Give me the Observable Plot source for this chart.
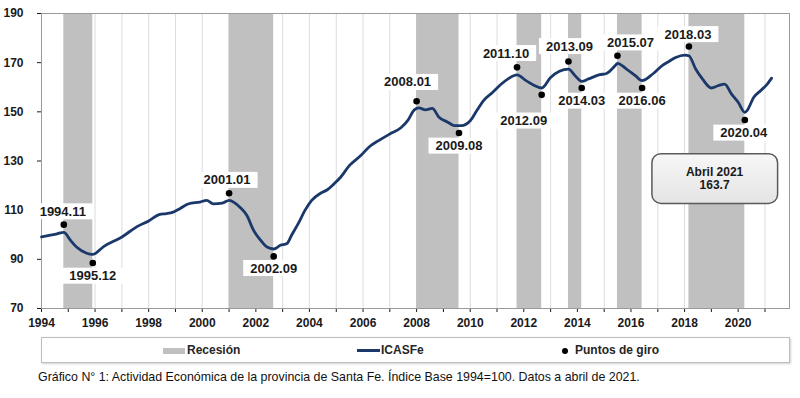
<!DOCTYPE html>
<html><head><meta charset="utf-8">
<script src="https://cdn.jsdelivr.net/npm/d3@7"></script>
<script src="https://cdn.jsdelivr.net/npm/@observablehq/plot@0.6"></script>
<style>
body{margin:0;background:#fff;}
#wrap{position:relative;width:800px;height:398px;overflow:hidden;background:#fff;}
#chart{position:absolute;left:0;top:0;}
#legend{position:absolute;left:41px;top:337px;width:747px;height:24px;border:1px solid #bdbdbd;box-shadow:1px 1px 2px #d0d0d0;font:bold 12px "Liberation Sans",Arial,sans-serif;color:#262626;}
#legend .it{position:absolute;top:0;height:24px;line-height:24px;white-space:nowrap;}
#legend .sw{display:inline-block;vertical-align:middle;}
#caption{position:absolute;left:38px;top:370px;font:12.4px "Liberation Sans",Arial,sans-serif;color:#111;white-space:nowrap;}
</style></head>
<body><div id="wrap"><div id="chart"></div>
<div id="legend"></div>
<div id="caption"></div></div>
<script>
// ---- data ----
const months = ["1994-01","1994-05","1994-08","1994-11","1995-02","1995-05","1995-09","1995-12","1996-05","1997-01","1997-08","1998-01","1998-06","1998-09","1998-12","1999-03","1999-07","1999-12","2000-03","2000-06","2000-10","2001-01","2001-06","2001-09","2001-12","2002-03","2002-06","2002-09","2002-12","2003-03","2003-05","2003-08","2003-11","2004-02","2004-06","2004-09","2004-12","2005-03","2005-07","2005-12","2006-04","2006-08","2007-01","2007-06","2007-09","2007-12","2008-02","2008-05","2008-08","2008-11","2009-03","2009-06","2009-09","2010-01","2010-04","2010-07","2010-11","2011-03","2011-06","2011-10","2012-02","2012-06","2012-09","2013-01","2013-05","2013-09","2013-12","2014-03","2014-06","2014-11","2015-02","2015-06","2015-07","2015-11","2016-03","2016-06","2016-11","2017-03","2017-06","2017-09","2018-01","2018-03","2018-06","2018-09","2019-01","2019-04","2019-07","2019-10","2020-01","2020-04","2020-05","2020-08","2020-11","2021-02","2021-04"];
const icasfe = [99.1,99.8,100.4,101.0,97.7,94.8,92.6,92.0,95.3,99.1,103.4,105.6,108.3,108.6,109.2,110.6,112.6,113.3,114.0,112.6,112.9,114.0,111.1,107.8,101.8,98.0,95.0,94.2,95.7,96.4,99.7,104.5,109.9,114.0,116.9,118.3,120.7,123.4,128.2,132.2,135.9,138.3,141.0,143.5,146.4,150.8,151.6,150.8,151.4,147.8,145.8,144.4,144.4,146.4,150.5,154.6,157.9,161.3,163.4,165.0,162.7,160.6,159.7,164.0,166.5,167.4,164.7,162.4,163.4,165.1,165.6,168.8,169.7,167.4,164.7,162.7,165.6,168.8,170.5,172.1,173.1,172.8,167.4,163.4,159.7,160.6,161.3,157.3,153.9,149.8,150.5,155.9,158.6,161.3,163.7];
const recessionStart = ["1994-11","2001-01","2008-01","2011-10","2013-09","2015-07","2018-03"];
const recessionEnd   = ["1995-12","2002-09","2009-08","2012-09","2014-03","2016-06","2020-04"];
const turningDates  = ["1994-11","1995-12","2001-01","2002-09","2008-01","2009-08","2011-10","2012-09","2013-09","2014-03","2015-07","2016-06","2018-03","2020-04"];
const turningValues = [104.1,88.5,116.9,91.2,154.3,141.4,168.1,156.9,170.5,159.7,172.8,159.7,176.6,146.7];
const turningLabels = ["1994.11","1995.12","2001.01","2002.09","2008.01","2009.08","2011.10","2012.09","2013.09","2014.03","2015.07","2016.06","2018.03","2020.04"];
const yTicks = [70,90,110,130,150,170,190];
const xStartYear = 1994, xEndYear = 2021;
const monthNames = ["Enero","Febrero","Marzo","Abril","Mayo","Junio","Julio","Agosto","Septiembre","Octubre","Noviembre","Diciembre"];
const legendLabels = ["Recesión","ICASFe","Puntos de giro"];
const captionText = "Gráfico N° 1: Actividad Económica de la provincia de Santa Fe. Índice Base 1994=100. Datos a abril de 2021.";

// ---- styles / layout (not data) ----
const labelOffsets = {
  "1994.11":[-1,-13],"1995.12":[0,13],"2001.01":[-2,-13],"2002.09":[0,12],
  "2008.01":[-9,-19],"2009.08":[0,13],"2011.10":[-11,-14],"2012.09":[-18,26],
  "2013.09":[1,-15],"2014.03":[0,13],"2015.07":[13,-13],"2016.06":[0,13],
  "2018.03":[-1,-12],"2020.04":[-1,13]
};
const LINE = "#1a386a", BAND = "#c0c0c0";

const parse = d3.utcParse("%Y-%m");
const series = months.map((m,i)=>({date:parse(m), value:icasfe[i]}));
const bands = recessionStart.map((s,i)=>({start:parse(s), end:parse(recessionEnd[i])}));
const turns = turningDates.map((d,i)=>({date:parse(d), value:turningValues[i], label:turningLabels[i]}));
const years = d3.range(xStartYear, xEndYear+1).map(y=>new Date(Date.UTC(y,0,1)));
const last = series[series.length-1];
const annText = `${monthNames[last.date.getUTCMonth()]} ${last.date.getUTCFullYear()}\n${last.value.toFixed(1)}`;

const svg = Plot.plot({
  width:800, height:332,
  marginLeft:41, marginRight:11, marginTop:13, marginBottom:24,
  style:{fontFamily:"'Liberation Sans', Arial, sans-serif", fontSize:"12px", fontWeight:"bold", color:"#1a1a1a", background:"transparent", overflow:"visible"},
  x:{type:"utc", domain:[new Date(Date.UTC(xStartYear,0,1)), new Date(Date.UTC(xEndYear,11,1))],
     ticks:years, tickFormat:d=>d.getUTCFullYear()%2===0?String(d.getUTCFullYear()):"", tickSize:4, tickPadding:6, label:null},
  y:{domain:[70,190], ticks:yTicks, tickSize:4, tickPadding:14, label:null},
  marks:[
    Plot.ruleX(years.slice(1), {stroke:"#dcdcdc", strokeWidth:1}),
    Plot.rect(bands, {x1:"start", x2:"end", fill:BAND}),
    Plot.frame({stroke:"#9a9a9a", strokeWidth:1}),
    Plot.line(series, {x:"date", y:"value", stroke:LINE, strokeWidth:2.8, curve:"monotone-x"}),
    Plot.dot(turns, {x:"date", y:"value", r:3.3, fill:"#000", stroke:"none"}),
    ...turns.map(t=>Plot.text([t], {x:"date", y:"value", text:"label", dx:labelOffsets[t.label][0], dy:labelOffsets[t.label][1], fontSize:13, fontWeight:"bold", fill:"#1a1a1a"})),
    Plot.text([last], {x:"date", y:"value", text:()=>annText, dx:-57, dy:100, fontSize:12, fontWeight:"bold", fill:"#1a1a1a", lineHeight:1.15})
  ]
});
document.getElementById("chart").append(svg);

// white boxes behind turning-point labels, rounded box behind annotation
const NS = "http://www.w3.org/2000/svg";
const labelSet = new Set(turningLabels);
const annFlat = annText.replace("\n","");
svg.querySelectorAll("text").forEach(t=>{
  const txt = t.textContent;
  if (labelSet.has(txt) || txt === annFlat) {
    const b = t.getBBox();
    const r = document.createElementNS(NS,"rect");
    const isAnn = txt === annFlat;
    const px = isAnn ? 34 : 7, py = isAnn ? 11 : 0.5;
    r.setAttribute("x", b.x-px); r.setAttribute("y", b.y-py);
    r.setAttribute("width", b.width+2*px); r.setAttribute("height", b.height+2*py);
    if (t.getAttribute("transform")) r.setAttribute("transform", t.getAttribute("transform"));
    if (isAnn) {
      r.setAttribute("rx", 9); r.setAttribute("fill", "url(#annGrad)");
      r.setAttribute("stroke", "#5a5a5a"); r.setAttribute("stroke-width", 1.5);
    } else r.setAttribute("fill", "#fff");
    t.parentNode.insertBefore(r, t);
  }
});
const defs = document.createElementNS(NS,"defs");
defs.innerHTML = '<linearGradient id="annGrad" x1="0" y1="0" x2="0" y2="1"><stop offset="0" stop-color="#f7f7f7"/><stop offset="1" stop-color="#e4e4e4"/></linearGradient>';
svg.insertBefore(defs, svg.firstChild);

// legend
const lg = document.getElementById("legend");
const items = [
  {left:121, sw:`<span class="sw" style="width:22px;height:6px;background:${BAND};margin-right:2px"></span>`, label:legendLabels[0]},
  {left:315, sw:`<span class="sw" style="width:23px;height:3px;background:${LINE};margin-right:1px"></span>`, label:legendLabels[1]},
  {left:520, sw:`<span class="sw" style="width:6px;height:6px;border-radius:50%;background:#000;margin-right:7px"></span>`, label:legendLabels[2]}
];
lg.innerHTML = items.map(it=>`<div class="it" style="left:${it.left}px">${it.sw}${it.label}</div>`).join("");
document.getElementById("caption").textContent = captionText;
</script></body></html>
